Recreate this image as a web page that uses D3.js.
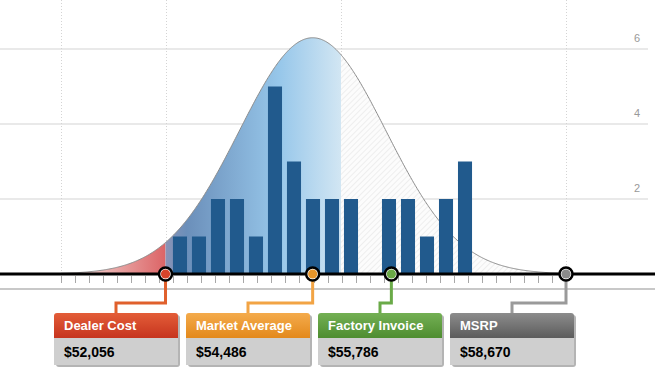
<!DOCTYPE html>
<html><head><meta charset="utf-8">
<script src="https://cdn.jsdelivr.net/npm/d3@7"></script>
<style>body{margin:0;background:#fff}svg{display:block}</style>
</head><body><svg id="c" width="655" height="382"></svg>
<script>
// ---- data ----
const markerNames = ["Dealer Cost", "Market Average", "Factory Invoice", "MSRP"];
const markerPrices = [52056, 54486, 55786, 58670];
const markerLabels = ["$52,056", "$54,486", "$55,786", "$58,670"];
const markerColors = ["#d8442a", "#e8962a", "#6aa845", "#8a8a8a"];
const headerTop = ["#e35d38", "#f4ab4c", "#74b054", "#8c8c8c"];
const headerBottom = ["#c6341e", "#e3891c", "#4e8d30", "#5c5c5c"];
const lineColors = ["#e0602c", "#f2a444", "#6aaa48", "#9a9a9a"];
const binCounts = [1, 1, 2, 2, 1, 5, 3, 2, 2, 2, 0, 2, 2, 1, 2, 3];
const binRange = [52138, 57159];
const priceDomain = [50330, 58670];
const targetPrice = 54954;
const curveMean = 54486, curveSd = 1210, curvePeak = 6.3;
const yTicks = [2, 4, 6];

// ---- setup ----
const svg = d3.select("#c");
const W = 655;
const x = d3.scaleLinear().domain(priceDomain).range([61, 566]);
const y = d3.scaleLinear().domain([0, 6]).range([274, 49]);
const xb = d3.scaleBand().domain(d3.range(binCounts.length))
  .range([x(binRange[0]), x(binRange[1])]).paddingInner(0.26).paddingOuter(0.13);

const defs = svg.append("defs");
const gRed = defs.append("linearGradient").attr("id", "gRed").attr("gradientUnits", "userSpaceOnUse")
  .attr("x1", x(priceDomain[0])).attr("x2", x(markerPrices[0])).attr("y1", 0).attr("y2", 0);
gRed.append("stop").attr("offset", 0).attr("stop-color", "#fbeeee");
gRed.append("stop").attr("offset", 0.5).attr("stop-color", "#e9a9a8");
gRed.append("stop").attr("offset", 1).attr("stop-color", "#dc6466");
const gBlue = defs.append("linearGradient").attr("id", "gBlue").attr("gradientUnits", "userSpaceOnUse")
  .attr("x1", x(markerPrices[0])).attr("x2", x(targetPrice)).attr("y1", 0).attr("y2", 0);
gBlue.append("stop").attr("offset", 0).attr("stop-color", "#8a93b6");
gBlue.append("stop").attr("offset", 0.12).attr("stop-color", "#6b8fba");
gBlue.append("stop").attr("offset", 0.65).attr("stop-color", "#97c7ea");
gBlue.append("stop").attr("offset", 1).attr("stop-color", "#d2e6f3");
const hatch = defs.append("pattern").attr("id", "hatch").attr("patternUnits", "userSpaceOnUse")
  .attr("width", 4).attr("height", 4).attr("patternTransform", "rotate(45)");
hatch.append("rect").attr("width", 4).attr("height", 4).attr("fill", "#fcfcfc");
hatch.append("line").attr("x1", 0).attr("y1", 0).attr("x2", 0).attr("y2", 4)
  .attr("stroke", "#e6e6e6").attr("stroke-width", 1.2);
headerTop.forEach((c, i) => {
  const g = defs.append("linearGradient").attr("id", "hg" + i).attr("x1", 0).attr("x2", 0).attr("y1", 0).attr("y2", 1);
  g.append("stop").attr("offset", 0).attr("stop-color", c);
  g.append("stop").attr("offset", 1).attr("stop-color", headerBottom[i]);
});

// gridlines
svg.append("g").selectAll("line").data(yTicks).join("line")
  .attr("x1", 0).attr("x2", 648).attr("y1", d => y(d)).attr("y2", d => y(d))
  .attr("stroke", "#e9e9e9").attr("stroke-width", 2);
svg.append("g").selectAll("text").data(yTicks).join("text")
  .attr("x", 640).attr("y", d => y(d) - 7).attr("text-anchor", "end")
  .attr("font-family", "Liberation Sans, Arial, sans-serif").attr("font-size", 11).attr("fill", "#999")
  .text(d => d);

// dotted vertical lines
const vlines = [priceDomain[0], markerPrices[0], targetPrice, markerPrices[3]];
svg.append("g").selectAll("line").data(vlines).join("line")
  .attr("x1", d => Math.round(x(d)) + 0.5).attr("x2", d => Math.round(x(d)) + 0.5)
  .attr("y1", 0).attr("y2", y(0))
  .attr("stroke", "#d4d4d4").attr("stroke-width", 1).attr("stroke-dasharray", "1,2");

// curve
const dens = p => curvePeak * Math.exp(-((p - curveMean) ** 2) / (2 * curveSd * curveSd));
const pts = (a, b) => { const s = d3.range(a, b, 15); s.push(b); return s; };
const area = d3.area().x(d => x(d)).y0(y(0)).y1(d => y(dens(d)));
svg.append("path").datum(pts(priceDomain[0], markerPrices[0])).attr("d", area).attr("fill", "url(#gRed)");
svg.append("path").datum(pts(markerPrices[0], targetPrice)).attr("d", area).attr("fill", "url(#gBlue)");
svg.append("path").datum(pts(targetPrice, priceDomain[1])).attr("d", area).attr("fill", "url(#hatch)");
svg.append("path").datum(pts(priceDomain[0], priceDomain[1]))
  .attr("d", d3.line().x(d => x(d)).y(d => y(dens(d))))
  .attr("fill", "none").attr("stroke", "#8c8c8c").attr("stroke-width", 1);

// bars
svg.append("g").selectAll("rect").data(binCounts).join("rect")
  .attr("x", (d, i) => xb(i)).attr("width", xb.bandwidth())
  .attr("y", d => y(d)).attr("height", d => y(0) - y(d))
  .attr("fill", "#215a8d");

// axis lines
svg.append("line").attr("x1", 0).attr("x2", W).attr("y1", 289).attr("y2", 289)
  .attr("stroke", "#c8c8c8").attr("stroke-width", 2);
const tickVals = d3.range(37).map(i => priceDomain[0] + i * (priceDomain[1] - priceDomain[0]) / 36);
svg.append("g").selectAll("line").data(tickVals).join("line")
  .attr("x1", d => Math.round(x(d)) + 0.5).attr("x2", d => Math.round(x(d)) + 0.5)
  .attr("y1", 276).attr("y2", 283).attr("stroke", "#a8a8a8").attr("stroke-width", 1);
svg.append("line").attr("x1", 0).attr("x2", W).attr("y1", y(0)).attr("y2", y(0))
  .attr("stroke", "#000").attr("stroke-width", 3);

// boxes & connectors
const boxX = i => 54 + i * 132, boxW = 124;
markerPrices.forEach((p, i) => {
  const cx = x(p), bx = boxX(i), mid = bx + boxW / 2;
  svg.append("path").attr("d", `M${cx},${y(0)}V303H${mid}V314`)
    .attr("fill", "none").attr("stroke", lineColors[i]).attr("stroke-width", 3);
  svg.append("rect").attr("x", bx + 2).attr("y", 315).attr("width", boxW).attr("height", 52)
    .attr("rx", 3).attr("fill", "#b4b4b4");
  svg.append("rect").attr("x", bx).attr("y", 337).attr("width", boxW).attr("height", 28).attr("fill", "#cfcfcf");
  svg.append("path").attr("d", `M${bx},338V316Q${bx},313 ${bx + 3},313H${bx + boxW - 3}Q${bx + boxW},313 ${bx + boxW},316V338Z`)
    .attr("fill", `url(#hg${i})`);
  svg.append("text").attr("x", bx + 10).attr("y", 330).attr("fill", "#fff")
    .attr("font-family", "Liberation Sans, Arial, sans-serif").attr("font-weight", "bold").attr("font-size", 13)
    .text(markerNames[i]);
  svg.append("text").attr("x", bx + 10).attr("y", 357).attr("fill", "#000")
    .attr("font-family", "Liberation Sans, Arial, sans-serif").attr("font-weight", "bold").attr("font-size", 14)
    .text(markerLabels[i]);
  svg.append("circle").attr("cx", cx).attr("cy", y(0)).attr("r", 6.5)
    .attr("fill", "#fff").attr("stroke", "#000").attr("stroke-width", 2.5);
  svg.append("circle").attr("cx", cx).attr("cy", y(0)).attr("r", 4.6).attr("fill", markerColors[i]);
});
</script></body></html>
